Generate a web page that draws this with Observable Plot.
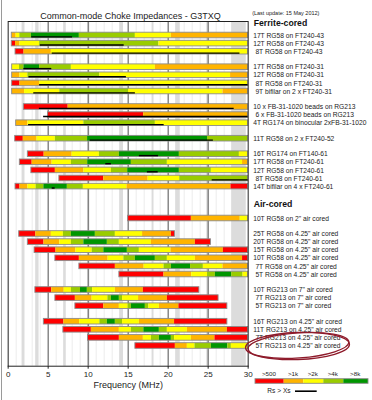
<!DOCTYPE html>
<html><head><meta charset="utf-8">
<script src="https://cdn.jsdelivr.net/npm/d3@7"></script>
<script src="https://cdn.jsdelivr.net/npm/@observablehq/plot@0.6"></script>
<style>
body{margin:0;background:#fff;}
#wrap{position:relative;width:372px;height:400px;overflow:hidden;background:#fff;font-family:"Liberation Sans",Arial,sans-serif;}
#wrap svg{position:absolute;overflow:visible;}
#edge{position:absolute;left:1px;top:0;width:1px;height:400px;background:#9a9a9a;}
</style></head><body><div id="wrap"><div id="edge"></div></div>
<script>
// ---------- data ----------
const levelNames = [">500", ">1k", ">2k", ">4k", ">8k"];
const levelCodes = "ROYGD"; // R >500, O >1k, Y >2k, G >4k, D >8k
const levelColors = ["#ff0000", "#ffb400", "#ffff00", "#99cc00", "#009600"];
const freqTicks = [0, 5, 10, 15, 20, 25, 30];
const majorGrid = [5, 10, 15, 20, 25];
const minorGrid = d3.range(1, 30);
const hamBands = [[1.8, 2.0], [3.5, 3.8], [7.0, 7.2], [10.1, 10.15], [14.0, 14.35], [18.068, 18.168], [21.0, 21.45], [24.89, 24.99], [28.0, 29.7]];
const sectionTitles = ["Ferrite-cored", "Air-cored"];
const groupSizes = [3, 4, 3, 1, 5, 1, 6, 3, 4];
const groupSection = [0, 0, 0, 0, 0, 1, 1, 1, 1];

const labels = [
  "17T RG58 on FT240-43", "12T RG58 on FT240-43", "\u20048T RG58 on FT240-43",
  "17T RG58 on FT240-31", "12T RG58 on FT240-31", "\u20048T RG58 on FT240-31", "\u20049T bifilar on 2 x FT240-31",
  "10 x FB-31-1020 beads on RG213", "\u20046 x FB-31-1020 beads on RG213", "4T RG174 on binocular 2xFB-31-1020",
  "11T RG58 on 2 x FT240-52",
  "16T RG174 on FT140-61", "17T RG58 on FT240-61", "12T RG58 on FT240-61", "\u20048T RG58 on FT240-61", "14T bifilar on 4 x FT240-61",
  "10T RG58 on 2\" air cored",
  "25T RG58 on 4.25\" air cored", "20T RG58 on 4.25\" air cored", "15T RG58 on 4.25\" air cored",
  "10T RG58 on 4.25\" air cored", "\u20047T RG58 on 4.25\" air cored", "\u20045T RG58 on 4.25\" air cored",
  "10T RG213 on 7\" air cored", "\u20047T RG213 on 7\" air cored", "\u20045T RG213 on 7\" air cored",
  "16T RG213 on 4.25\" air cored", "11T RG213 on 4.25\" air cored", "\u20047T RG213 on 4.25\" air cored", "\u20045T RG213 on 4.25\" air cored"
];
const starts = [0.45, 0.45, 0.92, 0.5, 0.5, 0.5, 0.5, 1.96, 4.98, 1.0, 0.88, 2.46, 1.46, 2.9, 6.4, 0.92,
  15.0, 1.38, 2.46, 3.3, 5.9, 8.9, 13.9, 3.4, 5.9, 8.4, 4.46, 6.9, 9.98, 15.9];
const ends = [
  [1.0, 1.45, 2.9, 8.9, 15.9, 20.4, 30],
  [0.92, 1.48, 3.93, 18.85, 30],
  [1.98, 5.4, 30],
  [1.42, 1.98, 3.93, 7.9, 18.4, 30],
  [1.48, 2.46, 11.46, 27.8, 30],
  [1.48, 3.93, 30],
  [2.05, 6.45, 15.05, 26.85, 30],
  [7.5, 30],
  [16.93, 30],
  [2.48, 9.46, 18.4, 30],
  [1.89, 3.6, 5.9, 9.93, 24.93, 30],
  [4.5, 8.0, 11.4, 13.9, 21.4, 28.9, 30],
  [3.0, 5.5, 7.9, 9.95, 15.4, 19.9, 29.3, 30],
  [5.9, 9.48, 12.9, 14.95, 21.4, 25.4, 30],
  [11.95, 17.5, 21.45, 30],
  [1.48, 2.48, 3.5, 4.46, 7.4, 9.4, 14.85, 27.85, 30],
  [22.9, 29.0, 30],
  [3.45, 5.4, 6.9, 7.9, 10.9, 13.4, 16.8, 20.4, 20.85],
  [4.48, 6.46, 7.9, 9.46, 12.4, 13.9, 17.9, 23.4, 25.35],
  [5.98, 8.48, 10.5, 11.96, 14.9, 16.4, 20.35, 26.9, 30],
  [8.9, 12.5, 14.46, 15.9, 18.4, 19.9, 23.4, 29.3, 30],
  [13.4, 17.0, 19.48, 20.4, 22.8, 24.4, 26.85, 30],
  [19.48, 22.95, 24.93, 25.9, 27.95, 29.35, 30],
  [5.45, 7.0, 7.9, 9.04, 9.9, 10.55, 13.4, 16.9, 23.9],
  [8.4, 10.5, 12.46, 12.9, 13.9, 14.3, 16.3, 19.9, 26.3],
  [11.96, 13.9, 15.0, 15.4, 17.15, 17.6, 18.9, 21.35, 27.4],
  [6.96, 8.93, 11.46, 12.4, 13.4, 14.3, 16.4, 20.8, 27.4],
  [10.4, 13.9, 15.4, 16.96, 18.9, 19.9, 22.4, 27.4, 30],
  [13.9, 16.9, 17.9, 18.9, 20.4, 20.8, 22.9, 25.85, 30],
  [20.9, 22.4, 23.35, 25.4, 27.45, 27.9, 30]
];
const levels = [
  "OYGDGYO", "ROYGY", "ROY",
  "YGDGYO", "OYGYO", "ROY", "OYGYO",
  "RO", "RO", "OYGY",
  "ROYGDG",
  "ROYGDGY", "ROYGDGYO", "ROYGDGY", "ROYG", "ROYGDGYOR",
  "ROY",
  "ROYGDGYOR", "ROYGDGYOR", "ROYGDGYOR", "ROYGDGYOR", "ROYGDGYO", "ROYGDGY",
  "ROYGDGYOR", "ROYGDGYOR", "ROYGDGYOR",
  "ROYGDGYOR", "ROYGDGYOR", "ROYGDGYOR", "ROYGDGY"
];
// Rs > Xs frequency span (black line)
const rsGtXs = [
  [2.95, 8.05], [4.02, 14.5], [5.5, 28.97],
  [1.96, 5.45], [2.6, 14.78], [3.93, 30], [3.2, 15.9],
  [3.9, 28.25], [4.43, 30], [2.55, 19.5],
  [10.25, 25.65],
  [16.4, 18.8], [12.2, 12.9], [17.4, 18.75], [25.5, 30], [5.5, 5.87],
  null, null, null, null, null, null, null, null, null, null, null, null, null, null
];

// ---------- layout ----------
const W = 372, H = 400;
const mTop = 21, mBottom = 34.3, mLeft = 7.67, mRight = 124.33;
const PX = 8.1;                    // pixels per row
const GAP = 7.4 / PX, HEAD = 16.4 / PX, FIRST = 35;
const rows = [];
{
  let r = 0;
  groupSizes.forEach((n, g) => {
    for (let k = 0; k < n; k++) {
      rows.push({i: r, label: labels[r], u: r + g * GAP + groupSection[g] * HEAD,
        start: starts[r], end: ends[r][ends[r].length - 1], section: groupSection[g]});
      r++;
    }
  });
}
const segs = [];
rows.forEach((row, i) => {
  let x0 = starts[i];
  ends[i].forEach((x1, k) => {
    segs.push({x1: x0, x2: x1, u: row.u, level: levelCodes.indexOf(levels[i][k])});
    x0 = x1;
  });
});
const blacks = rows.filter((r, i) => rsGtXs[i]).map(r => ({x1: rsGtXs[r.i][0], x2: rsGtXs[r.i][1], u: r.u}));
const headers = sectionTitles.map((t, s) => ({t, u: rows.find(r => r.section === s).u, dy: s === 0 ? -12 : -14.5}));
const half = 2.8 / PX;
const uTop = (mTop - FIRST) / PX, uBot = (H - mBottom - FIRST) / PX;

const chart = Plot.plot({
  width: W, height: H,
  marginTop: mTop, marginBottom: mBottom, marginLeft: mLeft, marginRight: mRight,
  style: {fontFamily: "'Liberation Sans', Arial, sans-serif", fontSize: "8px", color: "#222", background: "transparent", overflow: "visible"},
  x: {domain: [0, 30], ticks: freqTicks, tickSize: 3, tickPadding: 2, label: null},
  y: {domain: [uTop, uBot], range: [mTop, H - mBottom], axis: null},
  marks: [
    Plot.ruleX(minorGrid, {stroke: "#ececec", strokeWidth: 1}),
    Plot.rect(hamBands, {x1: d => d[0], x2: d => d[1], fill: "#dcdcdc", insetLeft: -0.5, insetRight: -0.5}),
    Plot.ruleX(majorGrid, {stroke: "#555", strokeWidth: 1}),
    Plot.rect(segs, {x1: "x1", x2: "x2", y1: d => d.u - half, y2: d => d.u + half, fill: d => levelColors[d.level]}),
    Plot.rect(rows, {x1: "start", x2: "end", y1: d => d.u - half, y2: d => d.u + half, fill: "none", stroke: "#8c8c8c", strokeWidth: 0.9}),
    Plot.ruleY(blacks, {x1: "x1", x2: "x2", y: d => d.u + 1.4 / PX, stroke: "#000", strokeWidth: 1.4}),
    Plot.frame({stroke: "#222", strokeWidth: 1}),
    Plot.text(rows, {x: 30, y: "u", text: "label", textAnchor: "start", dx: 5, fontSize: 6.7, fill: "#222", clip: false}),
    Plot.text(headers, {x: 30, y: "u", text: "t", textAnchor: "start", dx: 5.5, fontSize: 8.7, fontWeight: "bold", fill: "#111"}),
    Plot.text(["Common-mode Choke Impedances - G3TXQ"], {frameAnchor: "top", dy: -9, dx: 2.3, fontSize: 9, fill: "#222"}),
    Plot.text(["(Last update: 15 May 2012)"], {x: 30, frameAnchor: "top", dy: -10, dx: 4, textAnchor: "start", fontSize: 5.5, fill: "#222"}),
    Plot.text(["Frequency (MHz)"], {frameAnchor: "bottom", dy: 21.3, fontSize: 9, fill: "#222"})
  ]
});
// headers: apply vertical offsets
chart.querySelectorAll("text").forEach(t => {
  const h = headers.find(h => h.t === t.textContent);
  if (h) t.setAttribute("transform", (t.getAttribute("transform") || "") + ` translate(0,${h.dy})`);
});
chart.style.left = "0px"; chart.style.top = "0px";
// hand-drawn annotation ellipse around the last label
{
  const sx = d3.select(chart);
  const lastRowY = mTop + (rows[rows.length - 1].u - uTop) * PX;
  const g = sx.append("g").attr("fill", "none").attr("stroke", "#8e1b2b").attr("stroke-width", 1.3).attr("stroke-linecap", "round");
  const cx = 297.5, cy = lastRowY + 0.5;
  g.append("ellipse").attr("cx", cx).attr("cy", cy).attr("rx", 52).attr("ry", 13.5).attr("transform", `rotate(-2 ${cx} ${cy})`);
  g.append("ellipse").attr("cx", cx + 1).attr("cy", cy - 0.5).attr("rx", 50.5).attr("ry", 12.5).attr("transform", `rotate(-4 ${cx} ${cy})`);
}
document.getElementById("wrap").appendChild(chart);

// ---------- legend ----------
const legendWidths = [28.7, 19.6, 20, 20, 24.7];
const lg = [];
{
  let x = 3;
  legendWidths.forEach((w, i) => { lg.push({x1: x, x2: x + w, name: levelNames[i], i}); x += w; });
}
const legend = Plot.plot({
  width: 120, height: 34, margin: 0,
  style: {fontFamily: "'Liberation Sans', Arial, sans-serif", background: "transparent", overflow: "visible"},
  x: {domain: [0, 120], range: [0, 120], axis: null},
  y: {domain: [0, 34], range: [0, 34], axis: null},
  marks: [
    Plot.rect(lg, {x1: "x1", x2: "x2", y1: 12.7, y2: 17.3, fill: d => levelColors[d.i]}),
    Plot.rect([0], {x1: 3, x2: 116, y1: 12.7, y2: 17.3, fill: "none", stroke: "#8c8c8c", strokeWidth: 0.9}),
    Plot.text(lg, {x: d => (d.x1 + d.x2) / 2 - 1, y: 7.3, text: "name", fontSize: 6.2, fill: "#222"}),
    Plot.text(["Rs > Xs"], {x: 26.5, y: 24.7, fontSize: 6.6, fill: "#222"}),
    Plot.ruleY([24.7], {x1: 43, x2: 64.7, stroke: "#000", strokeWidth: 1.6})
  ]
});
legend.style.left = "252px"; legend.style.top = "366px";
document.getElementById("wrap").appendChild(legend);
</script>
</body></html>
